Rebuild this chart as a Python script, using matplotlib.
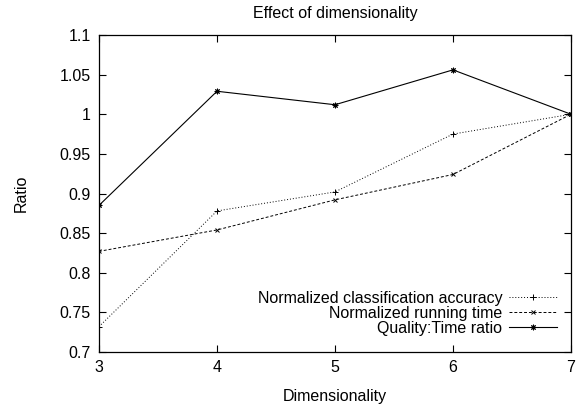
import matplotlib.pyplot as plt

plt.rcParams['font.family'] = ['Liberation Sans', 'DejaVu Sans']
plt.rcParams['font.size'] = 11.5

# values
dims = [3, 4, 5, 6, 7]
accuracy = [0.732, 0.878, 0.902, 0.975, 1.0]
run_time = [0.827, 0.854, 0.892, 0.924, 1.0]
quality = [0.885, 1.029, 1.012, 1.056, 1.0]
yticks = [0.7, 0.75, 0.8, 0.85, 0.9, 0.95, 1, 1.05, 1.1]
ytick_labels = ['0.7', '0.75', '0.8', '0.85', '0.9', '0.95', '1', '1.05', '1.1']

fig = plt.figure(figsize=(5.81, 4.07), dpi=100)
ax = fig.add_axes([99 / 581, 1 - 352 / 407, (571 - 99) / 581, (352 - 35) / 407])

ax.plot(dims, accuracy, color='black', lw=0.7, ls=(0, (1, 2)),
        marker='+', ms=4, mew=0.7, label='Normalized classification accuracy')
ax.plot(dims, run_time, color='black', lw=0.7, ls=(0, (3, 2)),
        marker='x', ms=3.5, mew=0.7, label='Normalized running time')
ax.plot(dims, quality, color='black', lw=0.8, ls='-',
        marker=(8, 2, 0), ms=4, mew=0.7, label='Quality:Time ratio')

ax.set_xlim(3, 7)
ax.set_ylim(0.7, 1.1)
ax.set_xticks(dims)
ax.set_yticks(yticks)
ax.set_yticklabels(ytick_labels)
ax.tick_params(direction='in', length=5, width=0.8, top=True, right=True,
               labelsize=11.5, pad=6)
for s in ax.spines.values():
    s.set_linewidth(0.9)

ax.set_title('Effect of dimensionality', fontsize=11.5, pad=12)
ax.set_xlabel('Dimensionality', fontsize=11.5, labelpad=10)
ax.set_ylabel('Ratio', fontsize=11.5, labelpad=22)

leg = ax.legend(loc='lower right', bbox_to_anchor=(0.99, 0.02), frameon=False,
                markerfirst=False, fontsize=11.5, handlelength=3.0,
                handletextpad=0.4, labelspacing=0.0, borderaxespad=0.2)
for t in leg.get_texts():
    t.set_ha('right')
leg._legend_box.align = 'right'

fig.savefig('out.png', dpi=100)
